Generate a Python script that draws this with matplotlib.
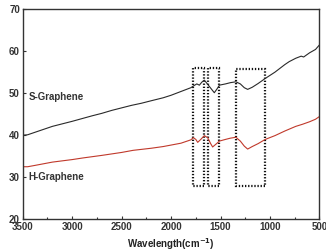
import matplotlib
matplotlib.use("Agg")
import matplotlib.pyplot as plt
from matplotlib.patches import Rectangle
from matplotlib.ticker import MultipleLocator

plt.rcParams["font.family"] = ["Liberation Sans", "DejaVu Sans"]

wn_s = [3500, 3450, 3400, 3300, 3200, 3000, 2800, 2700, 2600, 2400, 2300, 2200, 2080, 2000,
        1900, 1800, 1775, 1740, 1714, 1690, 1664, 1640, 1600, 1563, 1530, 1512, 1450, 1400,
        1345, 1300, 1260, 1226, 1180, 1120, 1048, 950, 850, 806, 740, 685, 660, 600, 540, 503]
s_val = [40.0, 40.1, 40.5, 41.3, 42.1, 43.3, 44.6, 45.2, 45.9, 47.1, 47.6, 48.2, 48.9, 49.5,
         50.4, 51.3, 51.7, 52.2, 51.9, 52.6, 53.1, 52.4, 51.2, 50.1, 51.2, 51.9, 52.2, 52.5,
         52.7, 52.2, 51.3, 50.9, 51.4, 52.3, 53.5, 55.0, 56.8, 57.5, 58.3, 58.8, 58.6, 59.6, 60.4, 61.4]

wn_h = [3500, 3450, 3380, 3200, 3000, 2888, 2700, 2500, 2384, 2200, 2080, 1900, 1800, 1775,
        1750, 1731, 1700, 1664, 1630, 1600, 1580, 1540, 1512, 1450, 1400, 1345, 1300, 1260,
        1226, 1180, 1120, 1048, 950, 850, 740, 672, 600, 540, 503]
h_val = [32.5, 32.5, 32.8, 33.6, 34.2, 34.6, 35.2, 35.9, 36.4, 36.9, 37.3, 38.1, 38.9, 39.4,
         39.0, 38.3, 39.0, 39.9, 39.4, 38.0, 37.2, 38.0, 38.6, 39.0, 39.3, 39.5, 38.6, 37.4,
         36.7, 37.3, 38.0, 39.0, 39.9, 41.0, 42.1, 42.6, 43.2, 43.8, 44.4]

# boxes: (x_high, x_low, y_bottom, y_top)
boxes = [(1775, 1664, 28.0, 55.9), (1623, 1512, 28.0, 55.9), (1345, 1048, 27.9, 55.8)]

labels = ["S-Graphene", "H-Graphene"]
label_pos = [(3440, 49.0), (3440, 30.0)]

fig = plt.figure(figsize=(3.26, 2.52), dpi=100)
ax = fig.add_axes([0.0696, 0.1298, 0.9104, 0.8342])

ax.plot(wn_s, s_val, color="#2a2a2a", lw=0.8)
ax.plot(wn_h, h_val, color="#c0392b", lw=0.8)

for x1, x2, y1, y2 in boxes:
    ax.add_patch(Rectangle((x2, y1), x1 - x2, y2 - y1, fill=False, ec="#111111",
                           lw=1.6, ls=(0, (0.6, 0.8))))

for t, (x, y) in zip(labels, label_pos):
    ax.text(x, y, t, fontsize=7, fontweight="bold", color="#333333", ha="left", va="center")

ax.set_xlim(3500, 500)
ax.set_ylim(20, 70)
ax.set_xticks([3500, 3000, 2500, 2000, 1500, 1000, 500])
ax.set_yticks([20, 30, 40, 50, 60, 70])
ax.xaxis.set_minor_locator(MultipleLocator(250))
ax.tick_params(axis="both", which="both", direction="in", labelsize=7, width=0.8, pad=2,
               colors="#333333")
ax.tick_params(axis="both", which="major", length=2.5)
ax.tick_params(axis="both", which="minor", length=1.5)
for lab in ax.get_xticklabels() + ax.get_yticklabels():
    lab.set_fontweight("bold")
for sp in ax.spines.values():
    sp.set_linewidth(1.0)
    sp.set_color("#333333")
ax.set_xlabel("Wavelength(cm$^{\\mathbf{-1}}$)", fontsize=7, fontweight="bold", color="#222222",
              labelpad=3)

fig.savefig("out.png", dpi=100)
